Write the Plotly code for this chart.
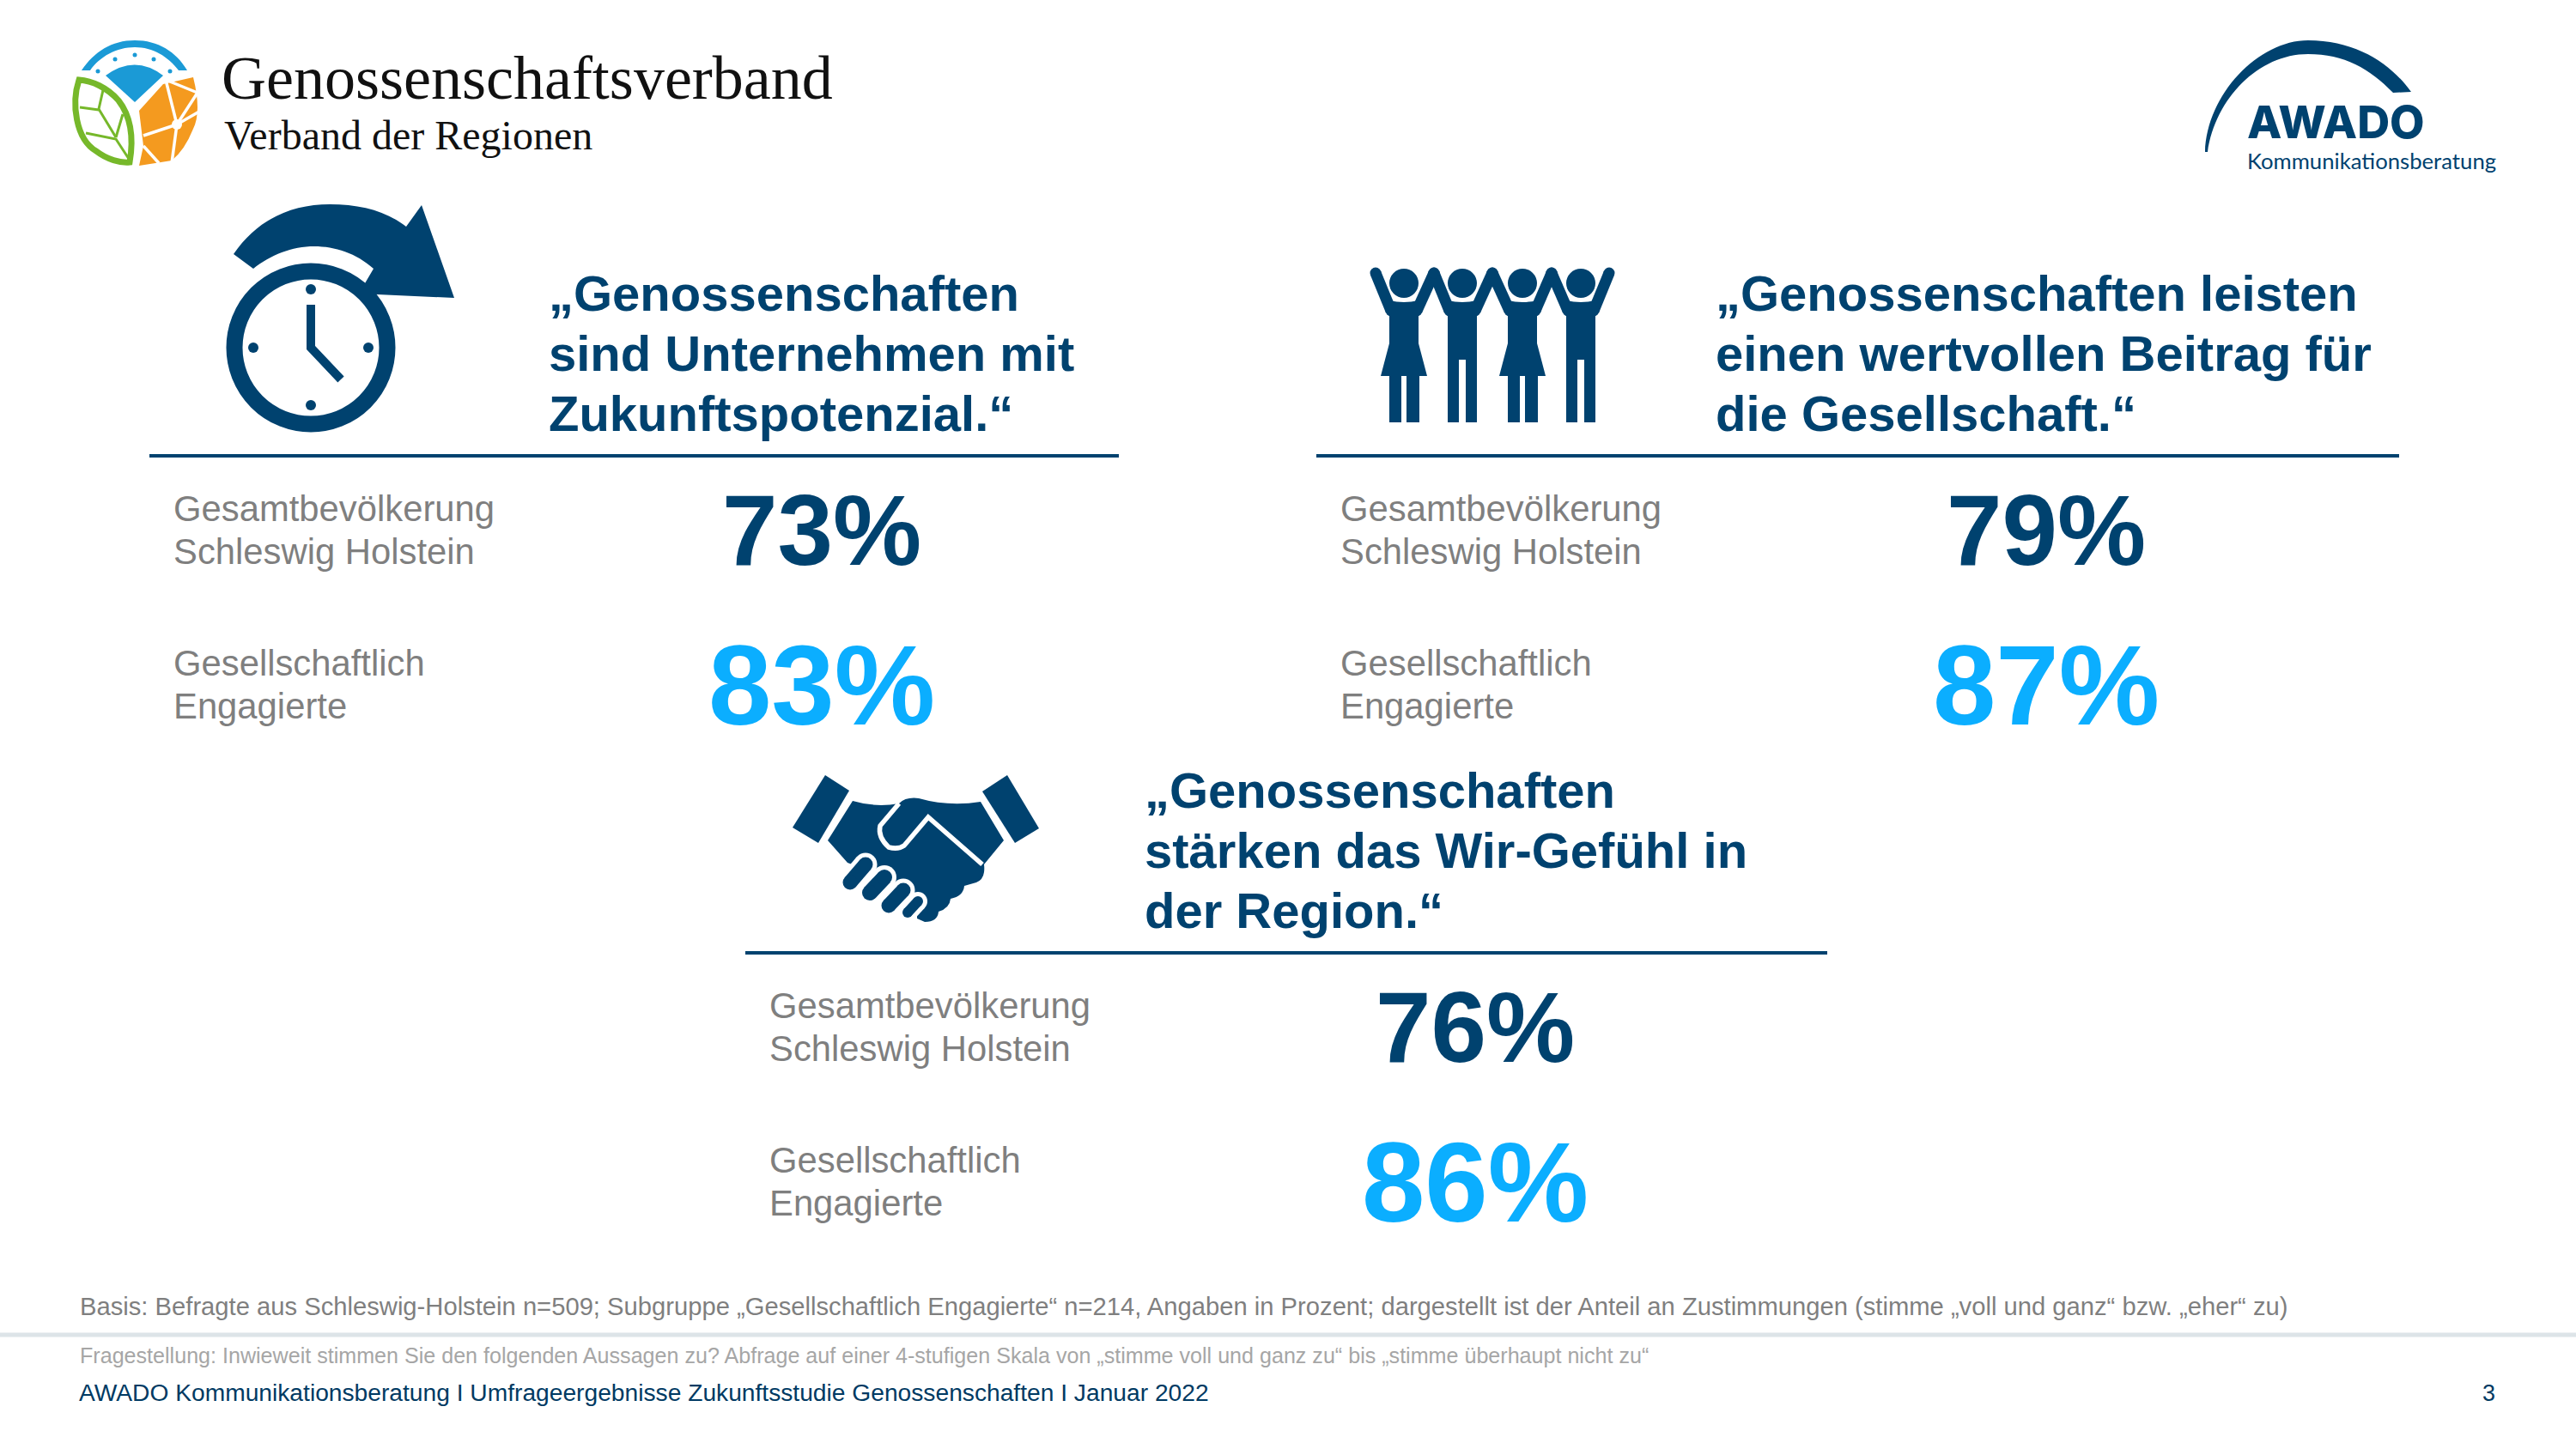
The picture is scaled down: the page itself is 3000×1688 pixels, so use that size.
import plotly.graph_objects as go

# values
statements = [
    ["„Genossenschaften", "sind Unternehmen mit", "Zukunftspotenzial.“"],
    ["„Genossenschaften leisten", "einen wertvollen Beitrag für", "die Gesellschaft.“"],
    ["„Genossenschaften", "stärken das Wir-Gefühl in", "der Region.“"],
]
group_a_label = ["Gesamtbevölkerung", "Schleswig Holstein"]
group_b_label = ["Gesellschaftlich", "Engagierte"]
group_a_values = [73, 79, 76]
group_b_values = [83, 87, 86]

brand_title = "Genossenschaftsverband"
brand_subtitle = "Verband der Regionen"
awado_name = "AWADO"
awado_sub = "Kommunikationsberatung"
basis_text = "Basis: Befragte aus Schleswig-Holstein n=509; Subgruppe „Gesellschaftlich Engagierte“ n=214, Angaben in Prozent; dargestellt ist der Anteil an Zustimmungen (stimme „voll und ganz“ bzw. „eher“ zu)"
question_text = "Fragestellung: Inwieweit stimmen Sie den folgenden Aussagen zu? Abfrage auf einer 4-stufigen Skala von „stimme voll und ganz zu“ bis „stimme überhaupt nicht zu“"
footer_text = "AWADO Kommunikationsberatung I Umfrageergebnisse Zukunftsstudie Genossenschaften I Januar 2022"
page_number = "3"

NAVY = "#00426f"
SKY = "#0baeff"
GREY = "#7f7f7f"
SANS = "Liberation Sans"
SERIF = "Liberation Serif"

# block layout in slide pixels: x offset, y offset, centre of the percent column, rule ends
block_dx = [0, 1359, 694]
block_dy = [0, 0, 579]
pct_x = [957, 2383, 1718]
rule_x0 = [174, 1533, 868]
rule_x1 = [1303, 2794, 2128]

fig = go.Figure()


def text(x, baseline, s, size, color, family=SANS, bold=False, anchor="left", weight=None):
    # y is given as the baseline, annotations centre on their box
    if bold:
        s = "<b>" + s + "</b>"
    font = dict(size=size, color=color, family=family)
    if weight:
        font["weight"] = weight
    fig.add_annotation(x=x, y=baseline - 0.31 * size, text=s, xref="x", yref="y", showarrow=False,
                       xanchor=anchor, yanchor="middle", font=font, borderpad=0)


def poly(path, color=NAVY):
    fig.add_shape(type="path", path=path, fillcolor=color, line=dict(width=0), xref="x", yref="y")


def stroke(path, width, color=NAVY):
    fig.add_shape(type="path", path=path, line=dict(color=color, width=width), xref="x", yref="y")


def dot(cx, cy, r, color=NAVY):
    fig.add_shape(type="circle", x0=cx - r, x1=cx + r, y0=cy - r, y1=cy + r, fillcolor=color, line=dict(width=0))


def capsule(x0, y0, x1, y1, width, color=NAVY):
    stroke(f"M{x0},{y0} L{x1},{y1}", width, color)
    dot(x0, y0, width / 2, color)
    dot(x1, y1, width / 2, color)


# percent values
fig.add_trace(go.Scatter(x=pct_x, y=[629 + d for d in block_dy], mode="text", text=[f"<b>{v}%</b>" for v in group_a_values],
                         textposition="middle center", textfont=dict(size=116, color=NAVY, family=SANS), hoverinfo="skip", showlegend=False))
fig.add_trace(go.Scatter(x=pct_x, y=[811 + d for d in block_dy], mode="text", text=[f"<b>{v}%</b>" for v in group_b_values],
                         textposition="middle center", textfont=dict(size=132, color=SKY, family=SANS), hoverinfo="skip", showlegend=False))

# statement blocks
for i in range(3):
    dx, dy = block_dx[i], block_dy[i]
    fig.add_shape(type="line", x0=rule_x0[i], x1=rule_x1[i], y0=531 + dy, y1=531 + dy, line=dict(color=NAVY, width=4))
    for j, line in enumerate(statements[i]):
        text(638 + dx, 359 + 70 * j + dy, line, 58, NAVY, bold=True)
    text(201 + dx, 605 + dy, group_a_label[0], 41.8, GREY)
    text(201 + dx, 655 + dy, group_a_label[1], 41.8, GREY)
    text(201 + dx, 785 + dy, group_b_label[0], 41.8, GREY)
    text(201 + dx, 835 + dy, group_b_label[1], 41.8, GREY)

# clock icon
poly("M272,296 C300,255 340,238 384,238 C420,238 450,246 473,264 L491,239 L529,347 L418,342 L435,313 "
     "C415,295 390,287 366,287 C340,287 315,297 295,313 Z")
fig.add_shape(type="circle", x0=273, x1=451, y0=316, y1=494, line=dict(color=NAVY, width=19))
dot(362, 337, 6)
dot(362, 472, 6)
dot(295, 405, 6)
dot(429, 405, 6)
stroke("M362,355 L362,405 L397,442", 10)

# people icon
hands = [1602, 1670, 1738, 1807, 1874]
for k, cx in enumerate([1635, 1703, 1773, 1841]):
    dot(cx, 330, 17)
    capsule(hands[k], 318, cx - 15, 362, 13)
    capsule(hands[k + 1], 318, cx + 15, 362, 13)
    if k % 2 == 0:
        poly(f"M{cx - 17},350 Q{cx},354 {cx + 17},350 L{cx + 17},400 L{cx + 27},438 L{cx + 18},438 L{cx + 18},492 L{cx + 3},492 "
             f"L{cx + 3},438 L{cx - 3},438 L{cx - 3},492 L{cx - 17},492 L{cx - 17},438 L{cx - 27},438 L{cx - 17},400 Z")
    else:
        poly(f"M{cx - 17},350 Q{cx},354 {cx + 17},350 L{cx + 17},492 L{cx + 4},492 L{cx + 4},419 L{cx - 4},419 L{cx - 4},492 L{cx - 17},492 Z")

# handshake icon
poly("M961,903 L989,921 L953,982 L923,964 Z")
poly("M1173,903 L1210,965 L1182,982 L1144,922 Z")
poly("M993,933 Q1020,941 1047,936 Q1055,928 1070,930 Q1105,940 1142,934 L1169,979 L1146,1007 Q1148,1024 1137,1028 L1123,1032 "
     "Q1122,1044 1107,1047 Q1106,1058 1093,1062 Q1092,1074 1077,1074 L1068,1070 L1068,1055 L1050,1040 L1025,1025 L1000,1010 L987,1005 L964,979 Z")
stroke("M1047,936 L1025,962 Q1022,975 1035,987 Q1046,990 1053,985 L1081,952 L1144,1007", 5.5, "white")
fingers = [(1008, 1007, 990, 1028, 17), (1030, 1022, 1013, 1040, 18), (1052, 1037, 1035, 1055, 17), (1069, 1050, 1057, 1063, 12)]
for x0, y0, x1, y1, w in fingers:
    capsule(x0, y0, x1, y1, w + 10, "white")
for x0, y0, x1, y1, w in fingers:
    capsule(x0, y0, x1, y1, w)

# Genossenschaftsverband logo
poly("M95,82 C110,60 130,47 157,47 C184,47 205,60 218,82 L208,82 C196,66 178,55 157,55 C136,55 116,66 105,82 Z", "#1b9ad6")
poly("M123,88 Q157,63 190,88 L157,119 Z", "#1b9ad6")
for cx, cy in [(114, 83), (134, 69), (157, 64), (179, 69), (198, 83)]:
    dot(cx, cy, 2.5, "#1b9ad6")
fig.add_shape(type="path", path="M92,93 C83,120 88,162 112,176 C125,186 140,190 151,189 C156,160 152,135 138,117 C125,102 107,94 92,93 Z",
              line=dict(color="#76b82a", width=7), fillcolor="white")
stroke("M120,105 L115,127 L135,160", 3, "#76b82a")
stroke("M93,125 L115,128", 3, "#76b82a")
stroke("M100,155 L135,162 L150,185", 3, "#76b82a")
stroke("M143,133 L135,160", 3, "#76b82a")
poly("M162,129 L190,98 L225,90 Q235,130 225,150 Q215,175 200,187 L162,193 L167,170 Z", "#f49a1f")
for seg in ["M206,145 L193,93", "M206,145 L230,108", "M206,145 L232,130", "M206,145 L200,190", "M206,145 L167,158", "M167,170 L185,190", "M193,93 L230,108"]:
    stroke(seg, 3.5, "white")
dot(206, 145, 6, "white")

# AWADO logo
poly("M2568,177 C2570,110 2630,47 2688,47 C2745,47 2785,75 2808,107 L2787,108 C2760,80 2730,63 2688,63 C2630,63 2580,115 2571,177 Z")
text(2616, 158, awado_name, 52.5, NAVY, family="Inter", weight=800)
text(2616, 195, awado_sub, 25.7, NAVY, family="Lato")

# brand text
text(257, 113, brand_title, 72, "#111111", family=SERIF)
text(260, 172, brand_subtitle, 48, "#111111", family=SERIF)

# footer
text(92, 1531, basis_text, 29.2, GREY)
fig.add_shape(type="line", x0=0, x1=3000, y0=1555, y1=1555, line=dict(color="#dde4e8", width=5))
text(92, 1587, question_text, 25.1, "#a6a6a6")
text(91, 1631, footer_text, 28.2, "#003a63")
text(2907, 1631, page_number, 27, "#003a63", anchor="right")

fig.update_layout(width=3000, height=1688, margin=dict(l=0, r=0, t=0, b=0), paper_bgcolor="white", plot_bgcolor="white", showlegend=False)
fig.update_xaxes(range=[0, 3000], visible=False, fixedrange=True)
fig.update_yaxes(range=[1688, 0], visible=False, fixedrange=True)
fig.write_html("out.html", config={"displayModeBar": False}, post_script="document.body.style.margin='0';")
